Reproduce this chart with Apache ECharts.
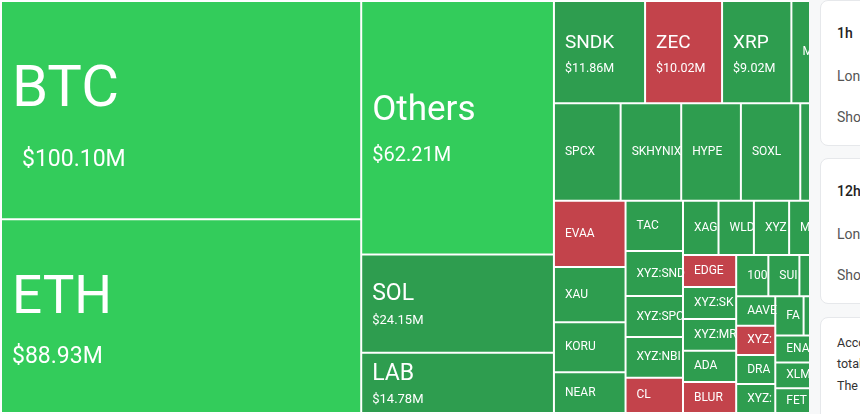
<!DOCTYPE html>
<html>
<head>
<meta charset="utf-8">
<title>Liquidation Heatmap</title>
<script src="https://cdn.jsdelivr.net/npm/echarts@6/dist/echarts.min.js"></script>
<style>
    html, body {
        margin: 0;
        padding: 0;
        background: #f7f8f9;
        overflow: hidden;
    }
    #chart {
        position: absolute;
        left: 0;
        top: 0;
        width: 860px;
        height: 414px;
    }
    #side {
        position: absolute;
        left: 809px;
        top: 0;
        width: 51px;
        height: 414px;
        background: #f7f8f9;
        overflow: hidden;
        font-family: Roboto, "Noto Sans", sans-serif;
    }
    .card {
        position: absolute;
        left: 11px;
        width: 300px;
        background: #fff;
        border: 1px solid #e6e8eb;
        border-radius: 8px;
        box-sizing: border-box;
        white-space: nowrap;
    }
    .card .h {
        position: absolute;
        left: 16px;
        font-size: 14px;
        font-weight: 500;
        color: #222;
    }
    .card .r {
        position: absolute;
        left: 16px;
        font-size: 14px;
        color: #555;
    }
    .card .t {
        position: absolute;
        left: 16px;
        font-size: 12.5px;
        color: #333;
    }
</style>
</head>
<body>
<div id="chart"></div>
<div id="side">
    <div class="card" style="top:0;height:146px">
        <div class="h" style="top:24px">1h</div>
        <div class="r" style="top:67px">Long</div>
        <div class="r" style="top:108px">Short</div>
    </div>
    <div class="card" style="top:158px;height:146px">
        <div class="h" style="top:24px">12h</div>
        <div class="r" style="top:67px">Long</div>
        <div class="r" style="top:108px">Short</div>
    </div>
    <div class="card" style="top:317px;height:120px">
        <div class="t" style="top:17px">According to the data, in the past 24 hours</div>
        <div class="t" style="top:38px">total liquidations came in at $450.30 million.</div>
        <div class="t" style="top:60px">The largest single liquidation order happened</div>
    </div>
</div>

<script>
    // liquidation totals, $M
    const names = [
        'BTC', 'ETH', 'Others', 'SOL', 'LAB', 'SNDK', 'ZEC', 'XRP', 'MSTR',
        'SPCX', 'SKHYNIX', 'HYPE', 'SOXL', 'PUMP',
        'EVAA', 'XAU', 'KORU', 'NEAR',
        'TAC', 'XYZ:SNDK', 'XYZ:SPCX', 'XYZ:NBIS', 'CL',
        'XAG', 'WLD', 'XYZ:MSTR', 'MU', 'LINK',
        'EDGE', 'XYZ:SKHX', 'XYZ:MRVL', 'ADA', 'BLUR',
        '1000PEPE', 'SUI', 'BNB', 'DOGE',
        'AAVE', 'XYZ:ZM', 'DRAM', 'XYZ:NVDA',
        'FARTCOIN', 'TRUMP', 'AVAX', 'ENA', 'XLM', 'FET', 'LTC', 'WIF', 'TON', 'ARB'
    ];
    const values = [
        100.10, 88.93, 62.21, 24.15, 14.78, 11.86, 10.02, 9.02, 8.80,
        8.29, 7.53, 7.42, 7.38, 7.30,
        6.05, 5.04, 4.55, 3.72,
        3.68, 3.29, 3.00, 2.98, 2.58,
        2.45, 2.44, 2.43, 2.42, 2.40,
        2.18, 2.16, 2.15, 2.12, 2.10,
        1.69, 1.63, 1.58, 1.55,
        1.47, 1.46, 1.45, 1.44,
        1.42, 1.40, 1.38, 1.36, 1.30, 1.25, 1.20, 1.15, 1.05, 0.95
    ];
    // tiles where shorts were the bigger part
    const shortSide = ['ZEC', 'EVAA', 'CL', 'EDGE', 'BLUR', 'XYZ:ZM'];

    const GREEN_HI = '#33cc5b';
    const GREEN = '#2e9d4f';
    const RED = '#c3434b';

    function tileColor(name, v) {
        if (shortSide.indexOf(name) >= 0) return RED;
        return v >= 50 ? GREEN_HI : GREEN;
    }

    // label size tiers by liquidation amount
    function tier(v) {
        if (v >= 95) return 1;
        if (v >= 80) return 2;
        if (v >= 50) return 3;
        if (v >= 14) return 4;
        if (v >= 9) return 5;
        return 6;
    }
    // total line height of the label block per tier (name + value)
    const blockH = {1: 138, 2: 116, 3: 88, 4: 52, 5: 51, 6: 16};

    const data = names.map((n, i) => ({
        name: n,
        value: values[i],
        itemStyle: {color: tileColor(n, values[i])}
    }));

    const chart = echarts.init(document.getElementById('chart'));
    chart.setOption({
        animation: false,
        series: [{
            type: 'treemap',
            left: 0,
            top: 0,
            right: 0,
            bottom: 0,
            roam: false,
            nodeClick: false,
            breadcrumb: {show: false},
            itemStyle: {
                borderColor: 'rgba(255,255,255,0.72)',
                borderWidth: 1,
                gapWidth: 0
            },
            emphasis: {disabled: true},
            label: {
                show: true,
                position: 'insideLeft',
                align: 'left',
                verticalAlign: 'middle',
                distance: 0,
                padding: [0, 5, 0, 0],
                overflow: 'truncate',
                ellipsis: '',
                fontFamily: 'Roboto',
                color: '#fff',
                formatter: function (p) {
                    const t = tier(p.value);
                    if (t === 6) return '{s|' + p.name + '}';
                    return '{n' + t + '|' + p.name + '}\n{v' + t + '|$' + p.value.toFixed(2) + 'M}';
                },
                rich: {
                    n1: {fontSize: 58, lineHeight: 100, color: '#fff', fontFamily: 'Roboto'},
                    v1: {fontSize: 23, lineHeight: 38, color: '#fff', fontFamily: 'Roboto', padding: [0, 0, 0, 10]},
                    n2: {fontSize: 53, lineHeight: 83, color: '#fff', fontFamily: 'Roboto'},
                    v2: {fontSize: 23, lineHeight: 33, color: '#fff', fontFamily: 'Roboto'},
                    n3: {fontSize: 35, lineHeight: 56, color: '#fff', fontFamily: 'Roboto'},
                    v3: {fontSize: 20, lineHeight: 32, color: '#fff', fontFamily: 'Roboto'},
                    n4: {fontSize: 23, lineHeight: 34, color: '#fff', fontFamily: 'Roboto'},
                    v4: {fontSize: 13, lineHeight: 18, color: '#fff', fontFamily: 'Roboto'},
                    n5: {fontSize: 19, lineHeight: 33, color: '#fff', fontFamily: 'Roboto'},
                    v5: {fontSize: 12.5, lineHeight: 18, color: '#fff', fontFamily: 'Roboto'},
                    s: {fontSize: 12, lineHeight: 16, color: '#fff', fontFamily: 'Roboto'}
                }
            },
            // treemap label box fills the tile, so move the text in from the left and down to the middle
            labelLayout: function (p) {
                const m = /\{(?:n(\d)|s)\|/.exec(p.text || '');
                const t = m && m[1] ? +m[1] : 6;
                return {
                    dx: 10,
                    dy: Math.max(0, (p.rect.height - blockH[t]) / 2)
                };
            },
            data: data
        }]
    });
</script>
</body>
</html>
